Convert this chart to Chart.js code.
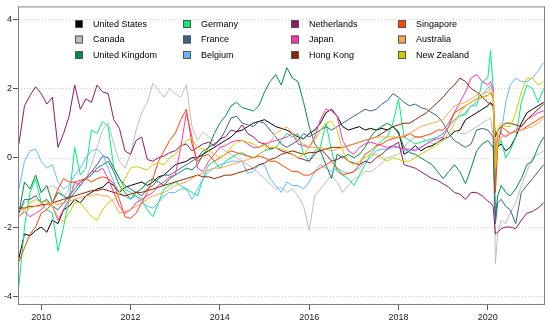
<!DOCTYPE html>
<html>
<head>
<meta charset="utf-8">
<script src="https://cdn.jsdelivr.net/npm/chart.js@4.4.1/dist/chart.umd.min.js"></script>
<style>
  html, body { margin: 0; padding: 0; background: #fff; }
  #wrap { width: 550px; height: 326px; }
</style>
</head>
<body>
<div id="wrap"><canvas id="chart"></canvas></div>
<script>
// Fechas (años decimales) comunes a todas las series.
const DATES = [2009.5, 2009.625, 2009.75, 2009.875,
  2010, 2010.125, 2010.25, 2010.375, 2010.5, 2010.625, 2010.75, 2010.875,
  2011, 2011.125, 2011.25, 2011.375, 2011.5, 2011.625, 2011.75, 2011.875,
  2012, 2012.125, 2012.25, 2012.375, 2012.5, 2012.625, 2012.75, 2012.875,
  2013, 2013.125, 2013.25, 2013.375, 2013.5, 2013.625, 2013.75, 2013.875,
  2014, 2014.125, 2014.25, 2014.375, 2014.5, 2014.625, 2014.75, 2014.875,
  2015, 2015.125, 2015.25, 2015.375, 2015.5, 2015.625, 2015.75, 2015.875,
  2016, 2016.125, 2016.25, 2016.375, 2016.5, 2016.625, 2016.75, 2016.875,
  2017, 2017.125, 2017.25, 2017.375, 2017.5, 2017.625, 2017.75, 2017.875,
  2018, 2018.125, 2018.25, 2018.375, 2018.5, 2018.625, 2018.75, 2018.875,
  2019, 2019.125, 2019.25, 2019.375, 2019.5, 2019.625, 2019.75, 2019.875,
  2020, 2020.06, 2020.12, 2020.17, 2020.22, 2020.3, 2020.4, 2020.5, 2020.625, 2020.75, 2020.875,
  2021, 2021.125, 2021.25];

const X_TICKS = [2010, 2012, 2014, 2016, 2018, 2020];
const Y_TICKS = [-4, -2, 0, 2, 4];

const COUNTRIES = ["United States", "Canada", "United Kingdom", "Germany", "France", "Belgium",
  "Netherlands", "Japan", "Hong Kong", "Singapore", "Australia", "New Zealand"];

const COLORS = ["#000000", "#BEBEBE", "#008B45", "#00EE76", "#36648B", "#63B8FF",
  "#8B1C62", "#FF34B3", "#8B2500", "#FF4500", "#FFA54F", "#CDCD00"];

const unitedStates = [-2.9, -2.2, -2.25, -2.1,
  -2.0, -2.15, -1.8, -1.9, -1.5, -1.4, -1.2, -1.3,
  -1.1, -1.0, -0.9, -0.85, -0.7, -0.8, -1.0, -0.85,
  -0.8, -0.75, -0.7, -0.8, -0.7, -0.55, -0.5, -0.35,
  -0.2, -0.15, -0.1, 0.0, 0.0, 0.1, 0.2, 0.3,
  0.4, 0.5, 0.6, 0.75, 0.8, 0.9, 1.0, 1.05,
  1.1, 1.0, 0.9, 0.85, 0.8, 0.7, 0.6, 0.55,
  0.7, 0.8, 1.0, 1.3, 1.4, 1.2, 0.9, 0.8,
  0.85, 0.9, 0.8, 0.85, 0.8, 0.85, 0.8, 0.9,
  0.75, 0.1, 0.2, 0.35, 0.2, 0.3, 0.35, 0.45,
  0.55, 0.6, 0.75, 0.8, 1.1, 1.2, 1.3, 1.4,
  1.5, 1.6, 1.5, 0.0, 0.3, 0.4, 0.2, 0.3, 0.6, 1.0, 1.3, 1.4, 1.5, 1.6];
const canada = [-1.6, -1.3, -1.2, -1.1,
  -1.0, -0.9, -0.8, -0.9, -1.1, -0.9, -0.8, -0.7,
  -0.6, -0.2, 0.3, 0.8, 1.0, 0.4, -0.1, -0.3,
  0.1, 0.8, 1.3, 1.6, 2.15, 1.95, 1.75, 2.0,
  1.85, 1.75, 2.1, 0.9, 0.5, 0.75, 0.6, 0.45,
  0.3, 0.2, 0.1, 0.0, -0.1, -0.2, -0.3, -0.45,
  -0.6, -0.75, -0.9, -0.85, -1.0, -0.9, -1.1, -1.4,
  -2.1, -1.1, -0.9, -0.7, -0.5, -0.7, -1.0, -0.8,
  -0.6, -0.55, -0.4, -0.4, -0.3, -0.15, 0.0, 0.05,
  0.1, 0.3, 0.5, 0.6, 0.6, 0.5, 0.4, 0.45,
  0.5, 0.6, 0.8, 0.7, 0.7, 0.8, 0.9, 1.0,
  1.1, 1.15, 0.6, -3.05, -2.2, -1.8, -1.9, -1.6, -1.3, -0.8, -0.4, 0.0, 0.1, 0.2];
const unitedKingdom = [-1.6, -0.7, -0.9, -0.5,
  -1.0, -0.8, -1.3, -1.0, -1.1, -1.2, -1.0, -0.8,
  -0.6, -0.5, -0.3, -0.2, -0.1, -0.4, -0.8, -1.0,
  -1.2, -1.0, -0.9, -0.7, -0.6, -0.7, -0.8, -0.6,
  -0.5, -0.4, -0.3, -0.35, -0.2, 0.1, 0.3, 0.7,
  1.0, 1.2, 1.5, 1.6, 1.45, 1.4, 1.35, 1.5,
  1.9, 2.2, 2.4, 2.1, 2.6, 2.3, 2.2, 1.6,
  0.9, 0.4, 0.2, -0.2, -0.6, 0.1, 0.0, 0.1,
  0.0, 0.1, 0.3, 0.6, 0.8, 0.9, 1.0, 0.9,
  0.7, 0.3, 0.15, 0.1, 0.0, -0.1, -0.2, -0.4,
  -0.6, -0.4, -0.2, -0.4, -0.75, -0.3, 0.2, 0.4,
  0.5, 0.4, 0.3, -1.7, -1.1, -0.8, -1.0, -1.1, -0.9, -0.6, -0.2, -0.1, 0.3, 0.6];
const germany = [-3.7, -2.0, -1.0, -0.6,
  -1.3, -1.5, -1.6, -2.7, -2.0, -1.2, 0.3, -0.5,
  -0.3, 0.8, 0.7, 1.05, 0.9, -0.3, -0.6, -0.9,
  -1.0, -1.1, -1.2, -1.5, -1.7, -1.3, -0.9, -0.8,
  -0.7, -0.8, -0.9, -1.0, -1.1, -0.6, -0.2, -0.1,
  -0.3, -0.1, 0.0, 0.1, 0.15, 0.05, 0.0, 0.1,
  0.2, 0.25, 0.3, 0.5, 0.7, 0.6, 0.7, 0.1,
  -0.1, 0.2, 0.3, 1.0, 0.2, -0.4, -0.5, -0.6,
  -0.8, -0.5, -0.2, 0.1, 0.3, 0.5, 0.6, 1.0,
  1.7, 0.6, 0.5, 0.4, 0.45, 0.5, 0.55, 0.6,
  0.7, 0.9, 1.1, 1.2, 1.25, 1.5, 1.5, 2.2,
  2.3, 3.1, 2.0, -0.7, 0.3, 0.5, 0.0, 0.2, 0.6, 1.6, 2.1, 2.0, 1.6, 2.0];
const france = [-1.6, -1.2, -1.2, -1.1,
  -1.3, -1.2, -1.4, -1.5, -1.3, -1.1, -0.9, -0.7,
  -0.6, -0.4, -0.2, 0.05, 0.0, -0.3, -0.6, -0.8,
  -0.9, -1.0, -1.1, -0.9, -0.8, -0.6, -0.5, -0.5,
  -0.4, -0.3, -0.2, -0.1, 0.0, 0.2, 0.3, 0.4,
  0.5, 0.8, 1.15, 1.2, 1.0, 0.95, 0.9, 1.05,
  1.0, 0.8, 0.6, 0.4, 0.3, 0.4, 0.5, 0.7,
  0.6, 0.7, 0.8, 0.9, 0.8, 0.9, 1.0, 1.1,
  1.2, 1.3, 1.4, 1.35, 1.4, 1.55, 1.65, 1.85,
  1.75, 1.6, 1.5, 1.55, 1.45, 1.4, 1.3, 1.2,
  1.0, 0.7, 0.5, 0.4, 0.3, 0.4, 0.8, 0.85,
  0.8, 0.7, 0.6, -1.9, -1.3, -1.2, -1.4, -1.5, -1.9, -1.0, -0.8, -0.6, -0.4, -0.2];
const belgium = [-0.9, -0.1, 0.2, 0.25,
  -0.1, -0.3, -0.2, -0.7, -0.9, -0.8, -0.5, -0.3,
  0.0, 0.2, 0.25, 0.1, -0.3, -0.7, -1.0, -1.1,
  -1.2, -1.1, -1.3, -1.4, -1.45, -1.3, -1.1, -1.0,
  -1.0, -0.9, -0.9, -1.2, -0.9, -0.6, -0.4, -0.3,
  -0.2, -0.15, -0.1, -0.1, -0.1, -0.45, -0.4, -0.2,
  -0.2, -0.6, -0.8, -1.0, -0.7, -0.8, -0.8, -0.9,
  -0.7, -0.4, -0.2, -0.3, -0.4, -0.3, -0.4, -0.45,
  -0.4, -0.3, -0.1, 0.0, 0.2, 0.25, 0.25, 0.3,
  0.3, 0.2, 0.2, 0.25, 0.3, 0.4, 0.5, 0.6,
  0.7, 0.9, 1.1, 1.2, 1.3, 1.5, 1.6, 1.8,
  2.0, 2.1, 1.9, 0.0, 0.8, 0.7, 1.6, 2.1, 2.3, 2.2, 2.2, 2.3, 2.5, 2.75];
const netherlands = [0.4, 1.5, 1.8, 2.05,
  1.85, 1.55, 1.75, 0.3, 0.7, 1.2, 2.1, 1.4,
  1.7, 1.6, 2.1, 1.9, 1.85, 1.1, 0.85, 0.2,
  0.1, 0.5, 0.6, -0.05, -0.1, 0.0, 0.05, 0.15,
  0.2, 0.35, 0.4, 0.2, 0.3, 0.4, 0.45, 0.35,
  0.55, 0.6, 0.8, 0.75, 0.95, 0.7, 0.6, 0.45,
  0.4, 0.25, 0.3, 0.2, 0.15, 0.1, 0.0, -0.05,
  -0.1, 0.1, 0.25, 0.1, -0.1, -0.05, 0.05, -0.1,
  -0.15, -0.2, -0.1, -0.15, 0.0, 0.1, 0.25, 0.35,
  0.45, -0.2, -0.25, -0.3, -0.4, -0.5, -0.6, -0.65,
  -0.75, -0.85, -1.0, -1.05, -1.2, -1.0, -1.0, -1.1,
  -1.25, -1.3, -1.4, -2.2, -2.15, -2.05, -2.0, -2.0, -2.05, -1.8, -1.6, -1.55, -1.45, -1.3];
const japan = [-1.7, -1.55, -1.7, -1.6,
  -1.5, -1.3, -1.4, -1.8, -1.5, -1.2, -0.7, -0.8,
  -0.6, -0.4, -0.4, -0.3, -0.6, -1.0, -1.4, -1.6,
  -1.5, -1.3, -1.2, -1.1, -1.0, -0.8, -0.7, -0.55,
  -0.5, 0.3, 1.3, 0.6, -0.3, -0.4, -0.1, 0.1,
  0.3, 0.35, 0.45, 0.5, 0.5, 0.4, 0.3, 0.3,
  0.4, 0.45, 0.5, 0.55, 0.6, 0.7, 0.4, 0.35,
  0.3, 0.6, 1.1, 1.4, 1.35, 1.2, 0.5, 0.2,
  0.1, 0.3, 0.4, 0.45, 0.4, 0.35, 0.3, 0.35,
  0.3, 0.25, 0.25, 0.2, 0.3, 0.4, 0.5, 0.55,
  0.6, 0.9, 1.3, 1.6, 1.9, 2.3, 2.4, 2.2,
  2.1, 2.2, 2.0, 0.0, 0.6, 0.7, 0.6, 0.7, 0.8, 0.9, 1.1, 1.2, 1.3, 1.35];
const hongKong = [-1.45, -1.45, -1.4, -1.4,
  -1.35, -1.35, -1.3, -1.25, -1.2, -1.15, -1.1, -1.05,
  -1.0, -0.95, -0.95, -0.9, -0.95, -1.0, -1.05, -1.1,
  -1.05, -1.0, -1.0, -0.95, -0.9, -0.85, -0.8, -0.75,
  -0.7, -0.65, -0.6, -0.55, -0.5, -0.55, -0.55, -0.6,
  -0.55, -0.5, -0.5, -0.45, -0.4, -0.35, -0.3, -0.2,
  -0.15, -0.05, 0.0, 0.1, 0.15, 0.2, 0.15, 0.1,
  0.15, 0.15, 0.2, 0.25, 0.3, 0.3, 0.3, 0.35,
  0.4, 0.45, 0.5, 0.55, 0.6, 0.7, 0.8, 0.9,
  0.95, 1.0, 1.0, 1.1, 1.2, 1.3, 1.45, 1.6,
  1.75, 1.95, 2.1, 2.3, 2.2, 2.0, 1.9, 1.75,
  1.6, 1.55, 1.5, 0.6, 0.8, 0.9, 1.0, 1.0, 0.95, 0.9, 1.1, 1.25, 1.4, 1.55];
const singapore = [-3.0, -2.6, -2.2, -2.0,
  -1.6, -1.5, -1.3, -0.9, -0.6, -0.7, -0.7, -0.65,
  -0.6, -0.7, -0.6, -0.55, -0.6, -0.75, -1.2, -1.7,
  -1.75, -1.6, -1.3, -1.0, -0.6, -0.1, 0.2, 0.5,
  0.7, 1.1, 1.4, 0.4, -0.1, 0.05, 0.1, -0.1,
  0.0, 0.1, 0.2, 0.15, 0.1, 0.05, 0.0, 0.05,
  0.0, -0.1, -0.1, -0.2, -0.3, -0.4, -0.4, -0.5,
  -0.5, -0.4, -0.3, -0.2, -0.1, -0.3, -0.5, -0.45,
  -0.4, -0.2, 0.1, 0.2, 0.35, 0.4, 0.5, 0.55,
  0.6, 0.6, 0.7, 0.6, 0.6, 0.65, 0.7, 0.8,
  0.8, 1.0, 1.3, 1.4, 1.5, 1.6, 1.7, 1.75,
  1.8, 1.9, 1.7, -1.0, 0.3, 0.9, 0.8, 0.7, 0.75, 0.8, 0.9, 1.0, 1.1, 1.2];
const australia = [-1.5, -1.5, -1.45, -1.4,
  -1.4, -1.35, -1.3, -1.35, -1.3, -1.25, -1.2, -1.15,
  -1.1, -1.1, -1.05, -1.1, -1.1, -1.3, -1.6, -1.55,
  -1.5, -1.4, -1.3, -1.2, -1.1, -1.05, -1.0, -0.9,
  -0.8, -0.75, -0.7, -0.6, -0.5, -0.45, -0.35, -0.3,
  -0.3, -0.25, -0.2, -0.15, -0.1, -0.05, 0.0, 0.1,
  0.2, 0.45, 0.7, 0.8, 0.9, 0.7, 0.5, 0.4,
  0.3, 0.3, 0.3, 0.25, 0.2, 0.25, 0.3, 0.35,
  0.4, 0.45, 0.5, 0.55, 0.6, 0.6, 0.6, 0.6,
  0.6, 0.65, 0.7, 0.8, 0.9, 0.95, 1.0, 1.05,
  1.1, 1.3, 1.5, 1.55, 1.6, 1.7, 1.8, 1.85,
  1.9, 2.0, 1.9, -0.3, 0.4, 0.6, 0.65, 0.7, 0.75, 0.8, 0.85, 0.9, 1.0, 1.15];
const newZealand = [-1.7, -1.5, -1.3, -1.2,
  -1.3, -1.25, -1.4, -1.7, -1.85, -1.6, -1.3, -1.3,
  -1.5, -1.7, -1.8, -1.5, -1.3, -1.2, -1.0, -0.6,
  -0.3, -0.25, -0.3, -0.35, -0.2, -0.15, -0.2, 0.0,
  0.1, 0.3, 0.5, 0.55, 0.3, 0.25, 0.2, 0.1,
  0.0, 0.1, 0.3, 0.45, 0.5, 0.45, 0.4, 0.3,
  0.35, 0.3, 0.3, 0.25, 0.2, 0.1, 0.0, 0.1,
  0.3, 0.5, 0.8, 1.0, 1.05, 0.8, 0.2, -0.1,
  -0.2, -0.1, 0.0, 0.1, 0.1, 0.0, -0.1, 0.0,
  -0.05, -0.1, -0.1, 0.0, 0.1, 0.2, 0.3, 0.4,
  0.5, 0.7, 1.0, 1.3, 1.5, 1.6, 1.7, 1.75,
  1.8, 1.9, 1.8, -0.3, 0.8, 1.0, 0.9, 0.9, 1.3, 1.9, 2.3, 2.3, 2.1, 2.2];

const SERIES = [unitedStates, canada, unitedKingdom, germany, france, belgium,
  netherlands, japan, hongKong, singapore, australia, newZealand];

const FONT = "'Liberation Sans', Arial, sans-serif";

// Líneas punteadas horizontales en cada tick del eje y.
const gridPunteado = {
  id: "gridPunteado",
  beforeDatasetsDraw(chart) {
    const { ctx, chartArea: a, scales: { y } } = chart;
    ctx.save();
    ctx.strokeStyle = "#cfcfcf";
    ctx.lineWidth = 1;
    ctx.setLineDash([1, 2]);
    Y_TICKS.forEach(v => {
      const py = Math.round(y.getPixelForValue(v)) + 0.5;
      ctx.beginPath();
      ctx.moveTo(a.left, py);
      ctx.lineTo(a.right, py);
      ctx.stroke();
    });
    ctx.restore();
  }
};

// Marco del área de trazado y leyenda en 4 columnas.
const marcoYLeyenda = {
  id: "marcoYLeyenda",
  afterDatasetsDraw(chart) {
    const { ctx, chartArea: a } = chart;
    ctx.save();
    ctx.strokeStyle = "#808080";
    ctx.lineWidth = 1;
    ctx.strokeRect(a.left + 0.5, a.top + 0.5, a.right - a.left - 1, a.bottom - a.top - 1);

    ctx.font = "9px " + FONT;
    ctx.textBaseline = "middle";
    ctx.textAlign = "left";
    const colX = [75, 183, 291, 398];
    const rowY = [24, 39.5, 55];
    COUNTRIES.forEach((name, i) => {
      const col = Math.floor(i / 3), row = i % 3;
      const bx = colX[col], by = rowY[row];
      ctx.fillStyle = COLORS[i];
      ctx.fillRect(bx, by - 4, 8, 8);
      ctx.strokeStyle = "#555";
      ctx.strokeRect(bx + 0.5, by - 3.5, 7, 7);
      ctx.fillStyle = "#000";
      ctx.fillText(name, bx + 18, by + 0.5);
    });
    ctx.restore();
  }
};

new Chart(document.getElementById("chart"), {
  type: "line",
  data: {
    datasets: SERIES.map((vals, i) => ({
      label: COUNTRIES[i],
      data: DATES.map((d, j) => ({ x: d, y: vals[j] })),
      borderColor: COLORS[i],
      borderWidth: 1,
      pointRadius: 0,
      tension: 0,
      fill: false,
      order: SERIES.length - i
    }))
  },
  options: {
    responsive: true,
    maintainAspectRatio: false,
    animation: false,
    layout: { padding: { top: 5, right: 5, left: 0, bottom: 0 } },
    plugins: { legend: { display: false }, tooltip: { enabled: false } },
    scales: {
      x: {
        type: "linear",
        min: 2009.48,
        max: 2021.28,
        afterBuildTicks: s => { s.ticks = X_TICKS.map(v => ({ value: v })); },
        afterFit: s => { s.height = 21; },
        grid: { drawOnChartArea: false, drawTicks: true, tickLength: 5, tickColor: "#555" },
        border: { display: false },
        ticks: { font: { size: 9, family: FONT }, color: "#222", padding: 2, maxRotation: 0,
          callback: v => String(v) }
      },
      y: {
        min: -4.25,
        max: 4.37,
        afterBuildTicks: s => { s.ticks = Y_TICKS.map(v => ({ value: v })); },
        afterFit: s => { s.width = 18; },
        grid: { drawOnChartArea: false, drawTicks: true, tickLength: 5, tickColor: "#555" },
        border: { display: false },
        ticks: { font: { size: 9, family: FONT }, color: "#222", padding: 1,
          callback: v => String(v) }
      }
    }
  },
  plugins: [gridPunteado, marcoYLeyenda]
});
</script>
</body>
</html>
